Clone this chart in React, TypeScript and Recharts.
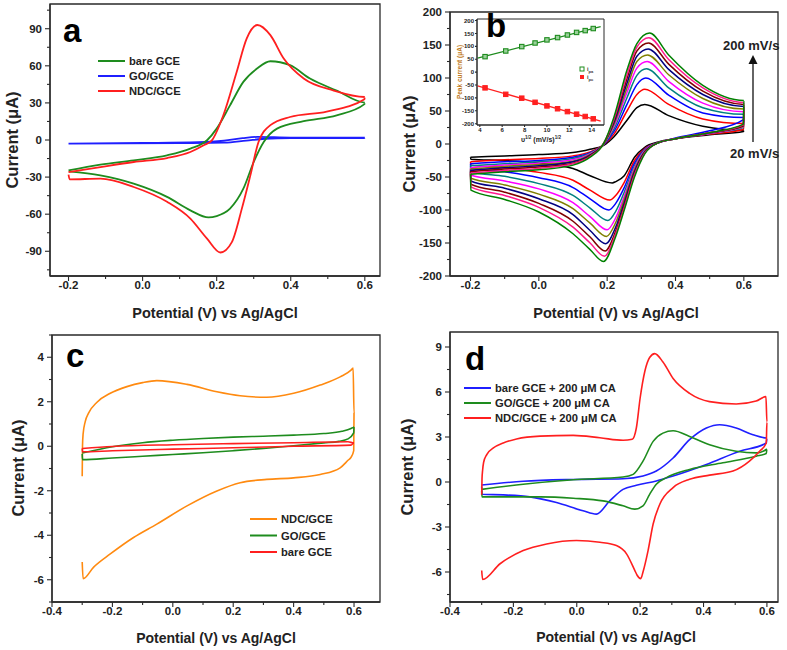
import React from "react";
import { LineChart, Line, XAxis, YAxis, ReferenceArea } from "recharts";

type Pair = [number, number];

// ---------- panel a : CV of the three electrodes ----------
const A_BARE: Pair[] = [
  [-0.2, -24.6], [-0.114, -19.9], [-0.024, -16.4], [0.066, -12.4], [0.129, -7], [0.174, -0.2],
  [0.2, 9.2], [0.236, 28], [0.272, 47], [0.309, 57.8], [0.345, 63.7], [0.398, 60.5], [0.452, 49.7],
  [0.524, 40], [0.6, 30.3],
  [0.599, 29], [0.524, 20], [0.435, 15.2], [0.363, 9.2], [0.327, -1.6], [0.3, -17.8], [0.272, -39.4],
  [0.236, -55.5], [0.2, -61.5], [0.178, -62.6], [0.129, -56.9], [0.066, -46], [-0.024, -35.3],
  [-0.114, -28.6], [-0.199, -25.3],
];
const A_GO: Pair[] = [
  [-0.2, -2.9], [0, -2.4], [0.15, -1.8], [0.22, -0.5], [0.27, 1.5], [0.31, 2.5], [0.4, 2], [0.6, 2],
  [0.599, 1.6], [0.4, 1.5], [0.33, 1], [0.28, -0.5], [0.22, -2.2], [0.1, -2.6], [-0.199, -3],
];
const A_NDC: Pair[] = [
  [-0.2, -26], [-0.114, -21.9], [-0.024, -17.8], [0.066, -14.6], [0.129, -9.7], [0.165, -4.3],
  [0.187, -0.3], [0.218, 20], [0.254, 55], [0.281, 82], [0.31, 93], [0.345, 84.8], [0.381, 65.9],
  [0.435, 49.7], [0.516, 40], [0.6, 34.8],
  [0.599, 33], [0.497, 23], [0.398, 18.6], [0.345, 12], [0.313, -1.6], [0.291, -28.6], [0.268, -55.5],
  [0.241, -82.6], [0.21, -91], [0.174, -79.8], [0.129, -63.6], [0.066, -50], [-0.024, -38],
  [-0.114, -31.3], [-0.197, -31.8], [-0.2, -28],
];

// ---------- panel b : NDC/GCE at 20 ... 200 mV/s ----------
const B_20: Pair[] = [
  [-0.2, -20], [-0.1, -18], [0, -16], [0.1, -13], [0.15, -8], [0.19, -2], [0.22, 11], [0.258, 36], [0.287, 55],
  [0.31, 60], [0.38, 43], [0.48, 27], [0.6, 21],
  [0.599, 19], [0.5, 14], [0.4, 8], [0.35, 3], [0.31, -5], [0.28, -20], [0.25, -48], [0.225, -57], [0.215, -59],
  [0.15, -48], [0.1, -37], [0, -29], [-0.1, -25], [-0.199, -23], [-0.2, -20],
];
const B_40: Pair[] = [
  [-0.2, -27], [-0.1, -24], [0, -22], [0.1, -18], [0.15, -12], [0.19, -1], [0.22, 15], [0.258, 50], [0.287, 75],
  [0.31, 83], [0.38, 60], [0.48, 38], [0.6, 31],
  [0.599, 22], [0.5, 15], [0.4, 8], [0.35, 2], [0.31, -7], [0.28, -25], [0.25, -58], [0.225, -78], [0.208, -85],
  [0.15, -70], [0.1, -55], [0, -43], [-0.1, -36], [-0.199, -32], [-0.2, -27],
];
const B_60: Pair[] = [
  [-0.2, -30], [-0.1, -27], [0, -25], [0.1, -20], [0.15, -13], [0.19, -1], [0.22, 19], [0.258, 60], [0.287, 90],
  [0.313, 100], [0.38, 74], [0.48, 47], [0.6, 40],
  [0.599, 37], [0.5, 20], [0.4, 9], [0.35, 2], [0.31, -8], [0.28, -29], [0.25, -66], [0.225, -90], [0.205, -100],
  [0.15, -83], [0.1, -66], [0, -51], [-0.1, -42], [-0.199, -37], [-0.2, -30],
];
const B_80: Pair[] = [
  [-0.2, -33], [-0.1, -30], [0, -27], [0.1, -22], [0.15, -14], [0.19, 0], [0.22, 23], [0.258, 70], [0.287, 104],
  [0.315, 114], [0.38, 85], [0.48, 55], [0.6, 45],
  [0.599, 25], [0.5, 16], [0.4, 8], [0.35, 2], [0.31, -9], [0.28, -33], [0.25, -73], [0.225, -102], [0.202, -116],
  [0.15, -97], [0.1, -78], [0, -60], [-0.1, -49], [-0.199, -42], [-0.2, -33],
];
const B_100: Pair[] = [
  [-0.2, -36], [-0.1, -32], [0, -29], [0.1, -24], [0.15, -15], [0.19, 0], [0.22, 27], [0.258, 78], [0.287, 115],
  [0.317, 125], [0.38, 95], [0.48, 62], [0.6, 49],
  [0.599, 26], [0.5, 16], [0.4, 8], [0.35, 2], [0.31, -10], [0.28, -36], [0.25, -79], [0.225, -112], [0.2, -130],
  [0.15, -110], [0.1, -89], [0, -68], [-0.1, -56], [-0.199, -47], [-0.2, -36],
];
const B_120: Pair[] = [
  [-0.2, -38], [-0.1, -34], [0, -31], [0.1, -26], [0.15, -16], [0.19, 0], [0.22, 30], [0.258, 85], [0.287, 125],
  [0.318, 135], [0.38, 105], [0.48, 69], [0.6, 53],
  [0.599, 27], [0.5, 17], [0.4, 8], [0.35, 2], [0.31, -11], [0.28, -39], [0.25, -84], [0.225, -119], [0.198, -140],
  [0.15, -120], [0.1, -98], [0, -76], [-0.1, -62], [-0.199, -52], [-0.2, -38],
];
const B_140: Pair[] = [
  [-0.2, -40], [-0.1, -36], [0, -33], [0.1, -27], [0.15, -17], [0.19, 1], [0.22, 33], [0.258, 92], [0.287, 133],
  [0.32, 144], [0.38, 113], [0.48, 75], [0.6, 57],
  [0.599, 28], [0.5, 17], [0.4, 8], [0.35, 2], [0.31, -12], [0.28, -42], [0.25, -89], [0.225, -126], [0.196, -151],
  [0.15, -131], [0.1, -107], [0, -83], [-0.1, -67], [-0.199, -56], [-0.2, -40],
];
const B_160: Pair[] = [
  [-0.2, -42], [-0.1, -38], [0, -35], [0.1, -29], [0.15, -18], [0.19, 1], [0.22, 36], [0.258, 99], [0.287, 141],
  [0.321, 153], [0.38, 121], [0.48, 80], [0.6, 60],
  [0.599, 28], [0.5, 17], [0.4, 8], [0.35, 2], [0.31, -13], [0.28, -45], [0.25, -93], [0.225, -132], [0.194, -162],
  [0.15, -141], [0.1, -117], [0, -90], [-0.1, -73], [-0.199, -61], [-0.2, -42],
];
const B_180: Pair[] = [
  [-0.2, -44], [-0.1, -40], [0, -37], [0.1, -30], [0.15, -19], [0.19, 1], [0.22, 38], [0.258, 105], [0.287, 147],
  [0.322, 161], [0.38, 128], [0.48, 85], [0.6, 63],
  [0.599, 29], [0.5, 17], [0.4, 8], [0.35, 2], [0.31, -14], [0.28, -47], [0.25, -97], [0.225, -136], [0.192, -170],
  [0.15, -150], [0.1, -126], [0, -96], [-0.1, -78], [-0.199, -65], [-0.2, -44],
];
const B_200: Pair[] = [
  [-0.2, -46], [-0.1, -42], [0, -39], [0.1, -32], [0.15, -20], [0.19, 1], [0.22, 41], [0.258, 112], [0.287, 152],
  [0.324, 168], [0.38, 135], [0.48, 89], [0.6, 66],
  [0.599, 30], [0.5, 17], [0.4, 8], [0.35, 2], [0.31, -15], [0.28, -50], [0.25, -100], [0.225, -140], [0.189, -178],
  [0.15, -160], [0.1, -136], [0, -103], [-0.1, -84], [-0.199, -70], [-0.2, -46],
];

// inset of b: peak currents vs square root of scan rate
const SQRT_RATE = [4.47, 6.32, 7.75, 8.94, 10, 10.95, 11.83, 12.65, 13.42, 14.14];
const I_PA = [60, 82, 99, 113, 125, 134, 144, 154, 161, 169];
const I_PC = [-61, -86, -101, -117, -131, -142, -153, -163, -172, -181];
const FIT_PA: Pair[] = [[3.8, 54], [14.8, 176]];
const FIT_PC: Pair[] = [[3.8, -53], [14.8, -190]];

// ---------- panel c : blank CVs ----------
const C_NDC: Pair[] = [
  [-0.3, -1.35], [-0.299, 0.0], [-0.297, 0.55], [-0.29, 1.11], [-0.279, 1.49], [-0.251, 1.98], [-0.207, 2.38],
  [-0.152, 2.68], [-0.1, 2.86], [-0.053, 2.95], [0.047, 2.78], [0.146, 2.45], [0.223, 2.27], [0.311, 2.2],
  [0.4, 2.38], [0.488, 2.75], [0.554, 3.12], [0.59, 3.42], [0.597, 3.52], [0.6, 1.5], [0.599, -0.2],
  [0.59, -0.5], [0.581, -0.62], [0.554, -0.97], [0.488, -1.27], [0.4, -1.42], [0.311, -1.49], [0.223, -1.64],
  [0.146, -2.01], [0.047, -2.68], [-0.053, -3.5], [-0.13, -4.1], [-0.207, -4.84], [-0.262, -5.43],
  [-0.297, -5.95], [-0.3, -5.2],
];
const C_GO: Pair[] = [
  [-0.3, -0.3], [-0.2, -0.02], [-0.1, 0.16], [0, 0.27], [0.1, 0.35], [0.2, 0.41], [0.3, 0.45], [0.4, 0.5],
  [0.5, 0.57], [0.56, 0.67], [0.59, 0.8], [0.6, 0.88],
  [0.599, 0.6], [0.58, 0.33], [0.55, 0.22], [0.5, 0.15], [0.4, 0.02], [0.3, -0.1], [0.2, -0.2], [0.1, -0.29],
  [0, -0.37], [-0.1, -0.45], [-0.2, -0.53], [-0.299, -0.6], [-0.3, -0.35],
];
const C_BARE: Pair[] = [
  [-0.3, -0.1], [-0.2, -0.01], [0, 0.07], [0.2, 0.12], [0.4, 0.16], [0.58, 0.2], [0.6, 0.15],
  [0.59, 0.05], [0.4, 0], [0.2, -0.07], [0, -0.13], [-0.2, -0.2], [-0.299, -0.25], [-0.3, -0.1],
];

// ---------- panel d : with 200 uM CA ----------
const D_BARE: Pair[] = [
  [-0.3, -0.2], [-0.169, 0.05], [-0.011, 0.17], [0.146, 0.22], [0.209, 0.4], [0.251, 0.73], [0.304, 1.6],
  [0.356, 2.82], [0.409, 3.6], [0.451, 3.82], [0.503, 3.6], [0.556, 3.15], [0.6, 2.93],
  [0.598, 2.6], [0.514, 2.05], [0.409, 1.17], [0.304, 0.4], [0.251, 0.07], [0.188, -0.22], [0.146, -0.49],
  [0.104, -1.26], [0.062, -2.14], [0.02, -1.92], [-0.064, -1.37], [-0.148, -0.99], [-0.232, -0.86],
  [-0.299, -0.82], [-0.3, -0.3],
];
const D_GO: Pair[] = [
  [-0.3, -0.49], [-0.169, -0.15], [-0.011, 0.15], [0.146, 0.33], [0.178, 0.51], [0.209, 1.39], [0.241, 2.71],
  [0.272, 3.26], [0.304, 3.42], [0.356, 3.04], [0.419, 2.49], [0.503, 2.05], [0.566, 1.94], [0.6, 2.2],
  [0.598, 1.9], [0.566, 1.72], [0.461, 1.28], [0.356, 0.84], [0.283, 0.29], [0.251, -0.15], [0.23, -0.82],
  [0.209, -1.59], [0.183, -1.81], [0.146, -1.59], [0.083, -1.26], [-0.011, -1.08], [-0.116, -0.99],
  [-0.299, -0.99], [-0.3, -0.6],
];
const D_NDC: Pair[] = [
  [-0.3, -0.85], [-0.299, 0.2], [-0.297, 0.8], [-0.294, 1.3], [-0.284, 1.83], [-0.263, 2.27], [-0.232, 2.6],
  [-0.19, 2.87], [-0.116, 3.06], [-0.011, 3.11], [0.073, 2.95], [0.146, 2.78], [0.175, 2.85], [0.188, 3.6],
  [0.2, 5.6], [0.215, 7.4], [0.23, 8.3], [0.246, 8.56], [0.272, 8.0], [0.304, 6.9], [0.356, 5.91], [0.419, 5.36],
  [0.503, 5.2], [0.566, 5.4], [0.597, 5.69], [0.6, 4.0], [0.598, 2.6], [0.577, 2.05], [0.545, 1.39],
  [0.493, 0.73], [0.419, 0.46], [0.356, 0.18], [0.304, -0.37], [0.262, -1.48], [0.241, -2.8], [0.225, -4.57],
  [0.209, -6.0], [0.202, -6.44], [0.19, -6.2], [0.183, -5.89], [0.157, -4.79], [0.125, -4.24], [0.073, -4.02],
  [-0.001, -3.9], [-0.095, -4.13], [-0.169, -4.57], [-0.242, -5.45], [-0.297, -6.5], [-0.3, -5.9],
];

// tick lists
const XT_A = [-0.2, -0.1, 0, 0.1, 0.2, 0.3, 0.4, 0.5, 0.6];
const XM_A = [-0.2, 0, 0.2, 0.4, 0.6];
const YT_A = [-105, -90, -75, -60, -45, -30, -15, 0, 15, 30, 45, 60, 75, 90, 105];
const YM_A = [-90, -60, -30, 0, 30, 60, 90];
const YT_B = [-200, -175, -150, -125, -100, -75, -50, -25, 0, 25, 50, 75, 100, 125, 150, 175, 200];
const YM_B = [-200, -150, -100, -50, 0, 50, 100, 150, 200];
const XT_CD = [-0.4, -0.3, -0.2, -0.1, 0, 0.1, 0.2, 0.3, 0.4, 0.5, 0.6];
const XM_CD = [-0.4, -0.2, 0, 0.2, 0.4, 0.6];
const YT_C = [-7, -6, -5, -4, -3, -2, -1, 0, 1, 2, 3, 4, 5];
const YM_C = [-6, -4, -2, 0, 2, 4];
const YT_D = [-7.5, -6, -4.5, -3, -1.5, 0, 1.5, 3, 4.5, 6, 7.5, 9];
const YM_D = [-6, -3, 0, 3, 6, 9];
const XT_IN = [4, 6, 8, 10, 12, 14];
const YT_IN = [-200, -150, -100, -50, 0, 50, 100, 150, 200];

const FONT = '"Liberation Sans", Arial, sans-serif';
const INK = "#2a2a2a";

const near = (list: number[], v: number) => list.some((m) => Math.abs(m - v) < 1e-6);
const fx = (v: number) => v.toFixed(1);
const fy = (v: number) => String(v);
const toPts = (a: Pair[]) => a.map(([x, y]) => ({ x, y }));

function xTick(major: number[], fmt: (v: number) => string, fs: number, len: number, gap: number) {
  return (p: any) => {
    const v = p.payload.value;
    const m = near(major, v);
    return (
      <g>
        <line x1={p.x} x2={p.x} y1={p.y} y2={p.y + (m ? len : len * 0.6)} stroke={INK} strokeWidth={1.1} />
        {m && (
          <text x={p.x} y={p.y + gap} textAnchor="middle" fontFamily={FONT} fontWeight="bold" fontSize={fs} fill="#222">
            {fmt(v)}
          </text>
        )}
      </g>
    );
  };
}

function yTick(major: number[], fmt: (v: number) => string, fs: number, len: number, gap: number) {
  return (p: any) => {
    const v = p.payload.value;
    const m = near(major, v);
    return (
      <g>
        <line x1={p.x - (m ? len : len * 0.6)} x2={p.x} y1={p.y} y2={p.y} stroke={INK} strokeWidth={1.1} />
        {m && (
          <text x={p.x - gap} y={p.y + fs * 0.36} textAnchor="end" fontFamily={FONT} fontWeight="bold" fontSize={fs} fill="#222">
            {fmt(v)}
          </text>
        )}
      </g>
    );
  };
}

type Box = { left: number; top: number; width: number; height: number };
type Plot = { l: number; t: number; r: number; b: number };
type Curve = { key: string; color: string; pts: Pair[] };

function CVChart(props: {
  box: Box; plot: Plot; xd: [number, number]; yd: [number, number];
  xt: number[]; xm: number[]; yt: number[]; ym: number[]; curves: Curve[]; lw: number;
}) {
  const { box, plot, xd, yd } = props;
  return (
    <div style={{ position: "absolute", left: box.left, top: box.top }}>
      <LineChart
        width={box.width}
        height={box.height}
        margin={{ left: 0, top: plot.t - box.top, right: box.left + box.width - plot.r, bottom: 0 }}
      >
        <XAxis
          type="number" dataKey="x" domain={xd} allowDataOverflow ticks={props.xt} interval={0}
          height={box.top + box.height - plot.b} tickSize={0} tickMargin={0} tickLine={false}
          axisLine={{ stroke: INK, strokeWidth: 1.3 }} tick={xTick(props.xm, fx, 11.5, 5, 12.5)}
        />
        <YAxis
          type="number" dataKey="y" domain={yd} allowDataOverflow ticks={props.yt} interval={0}
          width={plot.l - box.left} tickSize={0} tickMargin={0} tickLine={false}
          axisLine={{ stroke: INK, strokeWidth: 1.3 }} tick={yTick(props.ym, fy, 11.5, 5, 8)}
        />
        <ReferenceArea x1={xd[0]} x2={xd[1]} y1={yd[0]} y2={yd[1]} fill="none" stroke={INK} strokeWidth={1.3} />
        {props.curves.map((c) => (
          <Line
            key={c.key} data={toPts(c.pts)} dataKey="y" type="monotone" stroke={c.color}
            strokeWidth={props.lw} dot={false} activeDot={false} isAnimationActive={false}
          />
        ))}
      </LineChart>
    </div>
  );
}

const squareDot = (fill: string, stroke: string) => (p: any) => (
  <rect key={`sq-${p.index}`} x={p.cx - 2.2} y={p.cy - 2.2} width={4.4} height={4.4} fill={fill} stroke={stroke} strokeWidth={1.1} />
);

function Inset() {
  const box = { left: 440, top: 12, width: 175, height: 135 };
  const plot = { l: 477, t: 19, r: 604, b: 125 };
  const pa = SQRT_RATE.map((x, i) => ({ x, y: I_PA[i] }));
  const pc = SQRT_RATE.map((x, i) => ({ x, y: I_PC[i] }));
  const xd: [number, number] = [3.75, 15.1];
  const yd: [number, number] = [-205, 206];
  return (
    <div style={{ position: "absolute", left: box.left, top: box.top }}>
      <LineChart
        width={box.width}
        height={box.height}
        margin={{ left: 0, top: plot.t - box.top, right: box.left + box.width - plot.r, bottom: 0 }}
      >
        <XAxis
          type="number" dataKey="x" domain={xd} allowDataOverflow ticks={XT_IN} interval={0}
          height={box.top + box.height - plot.b} tickSize={0} tickMargin={0} tickLine={false}
          axisLine={{ stroke: INK, strokeWidth: 1 }} tick={xTick(XT_IN, String, 6, 2, 7)}
        />
        <YAxis
          type="number" dataKey="y" domain={yd} allowDataOverflow ticks={YT_IN} interval={0}
          width={plot.l - box.left} tickSize={0} tickMargin={0} tickLine={false}
          axisLine={{ stroke: INK, strokeWidth: 1 }} tick={yTick(YT_IN, String, 6, 2, 3)}
        />
        <ReferenceArea x1={xd[0]} x2={xd[1]} y1={yd[0]} y2={yd[1]} fill="#fff" fillOpacity={1} stroke={INK} strokeWidth={1} />
        <Line data={toPts(FIT_PA)} dataKey="y" type="linear" stroke="#1e8c1e" strokeWidth={1.3} dot={false} activeDot={false} isAnimationActive={false} />
        <Line data={toPts(FIT_PC)} dataKey="y" type="linear" stroke="#ff2020" strokeWidth={1.3} dot={false} activeDot={false} isAnimationActive={false} />
        <Line data={pa} dataKey="y" stroke="none" dot={squareDot("#9ad09a", "#1e8c1e")} activeDot={false} isAnimationActive={false} />
        <Line data={pc} dataKey="y" stroke="none" dot={squareDot("#ff2020", "#ff2020")} activeDot={false} isAnimationActive={false} />
      </LineChart>
    </div>
  );
}

const T = { fontFamily: FONT, fontWeight: "bold" as const, fill: "#222" };

function Legend({ x, y, dy, items, fs }: { x: number; y: number; dy: number; items: [string, string][]; fs: number }) {
  return (
    <g>
      {items.map(([label, color], i) => (
        <g key={label}>
          <line x1={x} x2={x + 27} y1={y + i * dy} y2={y + i * dy} stroke={color} strokeWidth={2} />
          <text x={x + 31} y={y + i * dy + fs * 0.36} fontSize={fs} {...T}>{label}</text>
        </g>
      ))}
    </g>
  );
}

export default function App() {
  const green = "#1e8c1e";
  const red = "#ff1f1f";
  const blue = "#1f1fff";
  return (
    <div style={{ position: "absolute", left: 0, top: 0, width: 787, height: 650, background: "#fff", overflow: "hidden" }}>
      <CVChart
        box={{ left: 0, top: 0, width: 392, height: 300 }} plot={{ l: 50, t: 4, r: 380, b: 276 }}
        xd={[-0.25, 0.641]} yd={[-110, 110]} xt={XT_A} xm={XM_A} yt={YT_A} ym={YM_A} lw={1.8}
        curves={[
          { key: "go", color: blue, pts: A_GO },
          { key: "bare", color: green, pts: A_BARE },
          { key: "ndc", color: red, pts: A_NDC },
        ]}
      />
      <CVChart
        box={{ left: 392, top: 0, width: 395, height: 300 }} plot={{ l: 450, t: 12, r: 778, b: 276 }}
        xd={[-0.26, 0.7]} yd={[-200, 200]} xt={XT_A} xm={XM_A} yt={YT_B} ym={YM_B} lw={1.5}
        curves={[
          { key: "20", color: "#000000", pts: B_20 },
          { key: "40", color: "#ff0000", pts: B_40 },
          { key: "60", color: "#0000ff", pts: B_60 },
          { key: "80", color: "#008080", pts: B_80 },
          { key: "100", color: "#ff00ff", pts: B_100 },
          { key: "120", color: "#808000", pts: B_120 },
          { key: "140", color: "#000080", pts: B_140 },
          { key: "160", color: "#800000", pts: B_160 },
          { key: "180", color: "#ff1a8c", pts: B_180 },
          { key: "200", color: "#008000", pts: B_200 },
        ]}
      />
      <Inset />
      <CVChart
        box={{ left: 0, top: 325, width: 392, height: 325 }} plot={{ l: 52, t: 335, r: 380, b: 602 }}
        xd={[-0.4, 0.686]} yd={[-7, 5]} xt={XT_CD} xm={XM_CD} yt={YT_C} ym={YM_C} lw={1.6}
        curves={[
          { key: "ndc", color: "#ff8a10", pts: C_NDC },
          { key: "go", color: green, pts: C_GO },
          { key: "bare", color: red, pts: C_BARE },
        ]}
      />
      <CVChart
        box={{ left: 392, top: 325, width: 395, height: 325 }} plot={{ l: 450, t: 332, r: 778, b: 602 }}
        xd={[-0.4, 0.635]} yd={[-8, 10]} xt={XT_CD} xm={XM_CD} yt={YT_D} ym={YM_D} lw={1.6}
        curves={[
          { key: "bare", color: blue, pts: D_BARE },
          { key: "go", color: green, pts: D_GO },
          { key: "ndc", color: red, pts: D_NDC },
        ]}
      />

      <svg width={787} height={650} style={{ position: "absolute", left: 0, top: 0, pointerEvents: "none" }}>
        {/* panel letters */}
        <text x={63} y={42} fontSize={33} {...T} fill="#000">a</text>
        <text x={486} y={37} fontSize={33} {...T} fill="#000">b</text>
        <text x={66} y={367} fontSize={33} {...T} fill="#000">c</text>
        <text x={465} y={370} fontSize={33} {...T} fill="#000">d</text>

        {/* axis titles */}
        <text x={215} y={318} fontSize={14.5} textAnchor="middle" {...T}>Potential (V) vs Ag/AgCl</text>
        <text x={616} y={318} fontSize={14.5} textAnchor="middle" {...T}>Potential (V) vs Ag/AgCl</text>
        <text x={216} y={643} fontSize={14} textAnchor="middle" {...T}>Potential (V) vs Ag/AgCl</text>
        <text x={616} y={642} fontSize={14} textAnchor="middle" {...T}>Potential (V) vs Ag/AgCl</text>
        <text x={18} y={140} fontSize={16.5} textAnchor="middle" transform="rotate(-90 18 140)" {...T}>Current (μA)</text>
        <text x={415} y={144} fontSize={16.5} textAnchor="middle" transform="rotate(-90 415 144)" {...T}>Current (μA)</text>
        <text x={24} y={468} fontSize={16.5} textAnchor="middle" transform="rotate(-90 24 468)" {...T}>Current (μA)</text>
        <text x={413} y={467} fontSize={16.5} textAnchor="middle" transform="rotate(-90 413 467)" {...T}>Current (μA)</text>

        {/* legends */}
        <Legend x={98} y={61} dy={15} fs={11.2} items={[["bare GCE", green], ["GO/GCE", blue], ["NDC/GCE", red]]} />
        <Legend x={250} y={519} dy={16.5} fs={11.2} items={[["NDC/GCE", "#ff8a10"], ["GO/GCE", green], ["bare GCE", red]]} />
        <Legend x={464} y={388} dy={15} fs={11.2} items={[["bare GCE + 200 μM CA", blue], ["GO/GCE + 200 μM CA", green], ["NDC/GCE + 200 μM CA", red]]} />

        {/* scan-rate arrow in b */}
        <text x={723} y={50} fontSize={13} {...T}>200 mV/s</text>
        <line x1={753} x2={753} y1={142} y2={63} stroke="#111" strokeWidth={1.3} />
        <polygon points="748.5,64 757.5,64 753,55" fill="#111" />
        <text x={730} y={158} fontSize={13} {...T}>20 mV/s</text>

        {/* inset titles and legend */}
        <text x={462} y={72} fontSize={6.5} textAnchor="middle" transform="rotate(-90 462 72)" fontFamily={FONT} fontWeight="bold" fill="#c0791a">Peak current (μA)</text>
        <text x={541} y={142} fontSize={7} textAnchor="middle" {...T}>
          υ<tspan dy={-3} fontSize={4.5}>1/2</tspan><tspan dy={3}> (mV/s)</tspan><tspan dy={-3} fontSize={4.5}>1/2</tspan>
        </text>
        <rect x={580} y={67} width={4} height={4} fill="#fff" stroke={green} strokeWidth={1} />
        <text x={587} y={71} fontSize={5.5} {...T} fill="#333">i<tspan dy={1.5} fontSize={4}>pa</tspan></text>
        <rect x={580} y={75} width={4} height={4} fill="#ff2020" />
        <text x={587} y={79} fontSize={5.5} {...T} fill="#333">i<tspan dy={1.5} fontSize={4}>pc</tspan></text>
      </svg>
    </div>
  );
}
